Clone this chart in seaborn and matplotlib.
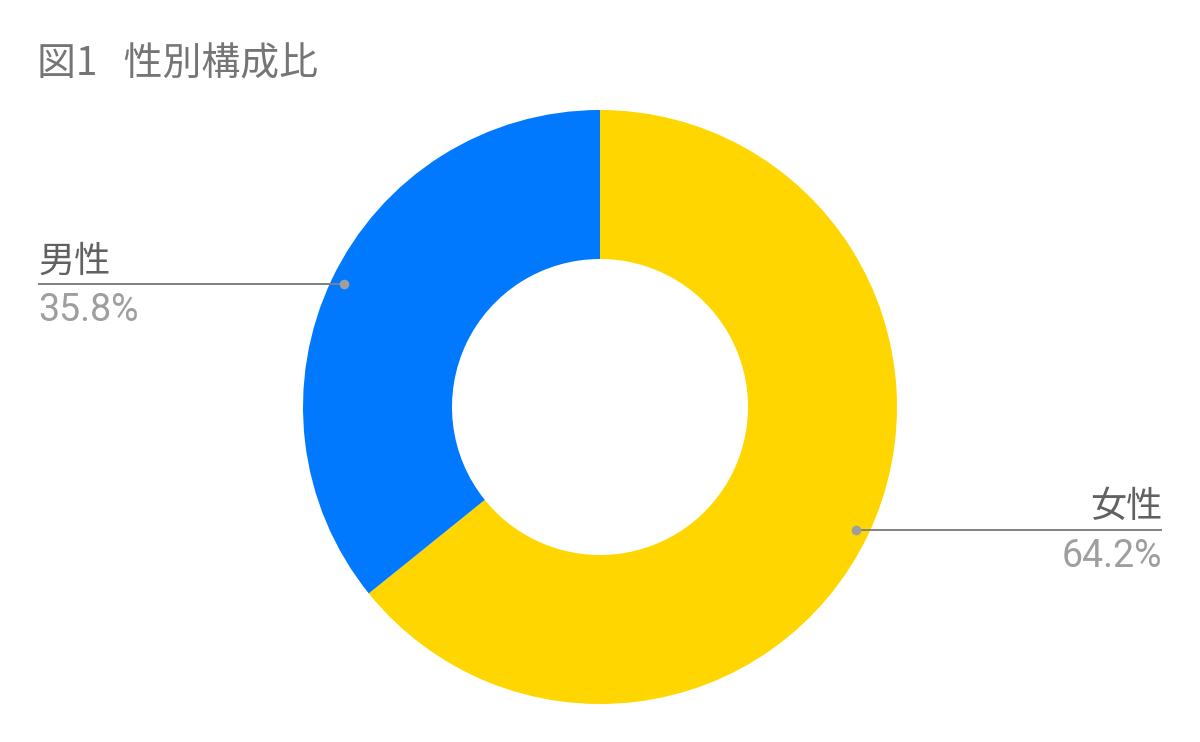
import matplotlib.pyplot as plt
import seaborn as sns
import numpy as np

# Data
labels = ['女性', '男性']
shares = [64.2, 35.8]
colors = ['#FFD600', '#0079FF']
title = '図1   性別構成比'

sns.set_theme(style='white')
plt.rcParams['font.family'] = ['Noto Sans CJK JP', 'DejaVu Sans']

fig = plt.figure(figsize=(12, 7.42), dpi=100)
ax = fig.add_axes([0, 0, 1, 1])

# donut (pixel-like coordinates, y up)
cx, cy, r_out, r_in = 600, 335, 297, 148
wedges, _ = ax.pie(shares, colors=colors, startangle=90, counterclock=False,
                   center=(cx, cy), radius=r_out, frame=True,
                   wedgeprops=dict(width=r_out - r_in, linewidth=0))
ax.set_xlim(0, 1200)
ax.set_ylim(0, 742)
ax.set_aspect('equal')
ax.axis('off')

# leader lines + labels
for w, lab, val in zip(wedges, labels, shares):
    ang = np.deg2rad((w.theta1 + w.theta2) / 2)
    px = cx + 284 * np.cos(ang)
    py = cy + 284 * np.sin(ang)
    if np.cos(ang) < 0:
        xend, ha = 38, 'left'
    else:
        xend, ha = 1162, 'right'
    ax.plot([px, xend], [py, py], color='#808080', lw=1.4, solid_capstyle='butt')
    ax.plot(px, py, 'o', color='#9e9e9e', ms=7, mew=0)
    ax.text(xend, py + 13, lab, ha=ha, va='baseline', fontsize=26, color='#616161')
    ax.text(xend, py - 37, f'{val:.1f}%', ha=ha, va='baseline', fontsize=27,
            color='#9e9e9e', family=['Roboto', 'DejaVu Sans'])

ax.text(37, 742 - 75, title, ha='left', va='baseline', fontsize=28, color='#757575')

fig.savefig('out.png', dpi=100, facecolor='white')
